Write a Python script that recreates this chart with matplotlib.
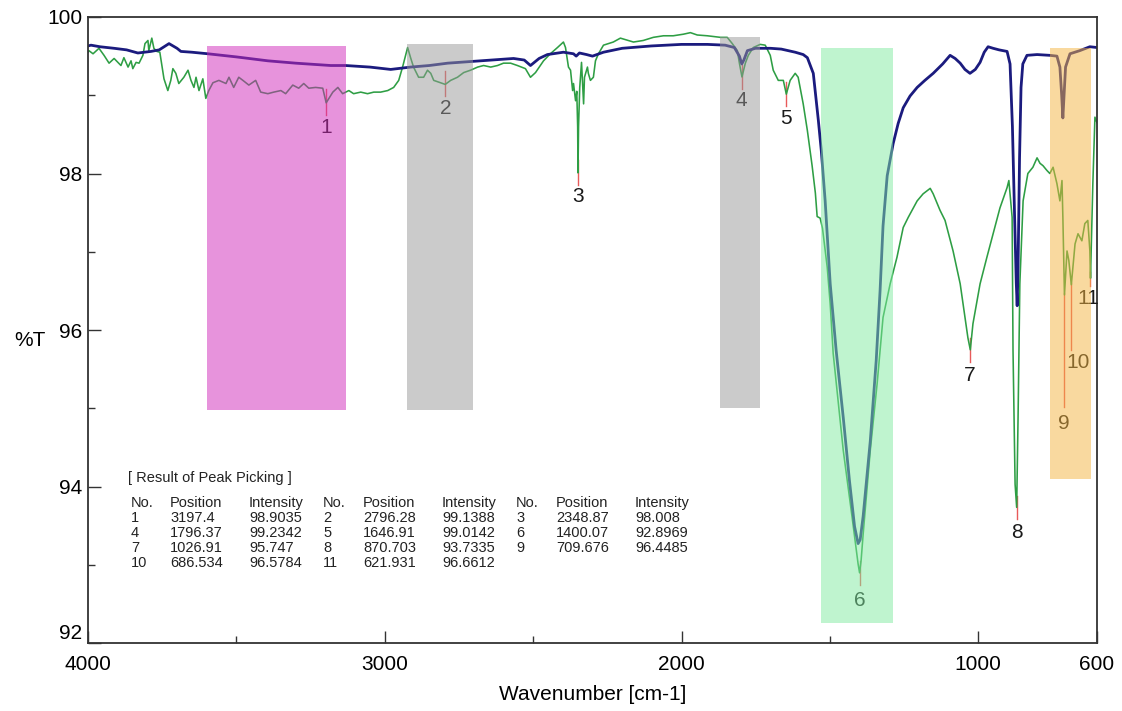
import matplotlib
matplotlib.use("Agg")
import matplotlib.pyplot as plt
from matplotlib.patches import Rectangle
from matplotlib.ticker import FixedLocator

plt.rcParams['font.family'] = ['Liberation Sans', 'DejaVu Sans']

# ---------------- data: sample spectrum (green) ----------------
green_wn = [
    4000, 3997, 3983, 3963, 3946, 3929, 3912, 3899, 3889, 3879,
    3865, 3855, 3849, 3838, 3828, 3815, 3808, 3798, 3795, 3785,
    3778, 3768, 3758, 3744, 3731, 3721, 3714, 3704, 3694, 3677,
    3663, 3653, 3643, 3636, 3626, 3613, 3603, 3593, 3579, 3559,
    3535, 3525, 3509, 3492, 3478, 3458, 3435, 3418, 3394, 3374,
    3350, 3334, 3310, 3290, 3273, 3256, 3233, 3209, 3197.4, 3175,
    3158, 3142, 3121, 3105, 3081, 3058, 3037, 3014, 2990, 2970,
    2953, 2940, 2930, 2923, 2913, 2903, 2886, 2869, 2856, 2845,
    2835, 2812, 2796.28, 2778, 2755, 2734, 2711, 2687, 2667, 2643,
    2620, 2600, 2576, 2553, 2526, 2509, 2492, 2465, 2442, 2418,
    2398, 2391, 2381, 2374, 2367, 2364, 2357, 2353, 2350, 2348.87,
    2347, 2343, 2337, 2330, 2327, 2317, 2314, 2307, 2297, 2290,
    2280, 2263, 2230, 2206, 2162, 2129, 2095, 2061, 2028, 1994,
    1970, 1947, 1913, 1869, 1846, 1829, 1812, 1805, 1796.37, 1785,
    1775, 1758, 1735, 1718, 1701, 1691, 1674, 1657, 1646.91, 1634,
    1617, 1607, 1590, 1576, 1560, 1549, 1543, 1533, 1525, 1509,
    1499, 1489, 1455, 1425, 1405, 1400.07, 1395, 1388, 1364, 1341,
    1321, 1297, 1274, 1253, 1236, 1206, 1186, 1162, 1152, 1129,
    1112, 1085, 1061, 1045, 1035, 1026.91, 1018, 994, 971, 950,
    927, 903, 897, 886, 883, 876, 870.703, 866, 860, 849,
    833, 816, 802, 792, 782, 769, 759, 748, 735, 725,
    718, 715, 709.676, 701, 695, 686.534, 674, 664, 651, 641,
    631, 624, 621.931, 614, 607, 600,
]
green_t = [
    99.55, 99.57, 99.53, 99.60, 99.51, 99.41, 99.47, 99.42, 99.38, 99.48,
    99.36, 99.44, 99.34, 99.42, 99.41, 99.51, 99.66, 99.70, 99.57, 99.73,
    99.60, 99.56, 99.55, 99.21, 99.06, 99.19, 99.34, 99.28, 99.15, 99.23,
    99.32, 99.19, 99.10, 99.23, 99.06, 99.21, 98.96, 99.06, 99.16, 99.19,
    99.15, 99.23, 99.10, 99.23, 99.19, 99.13, 99.19, 99.04, 99.02, 99.04,
    99.06, 99.02, 99.13, 99.09, 99.15, 99.09, 99.10, 99.09, 98.9035, 99.04,
    99.10, 99.02, 99.06, 99.02, 99.04, 99.02, 99.04, 99.04, 99.06, 99.10,
    99.19, 99.36, 99.51, 99.61, 99.48, 99.36, 99.23, 99.23, 99.32, 99.28,
    99.19, 99.16, 99.1388, 99.19, 99.23, 99.29, 99.32, 99.36, 99.38, 99.36,
    99.38, 99.41, 99.41, 99.38, 99.34, 99.23, 99.29, 99.44, 99.53, 99.61,
    99.68, 99.61, 99.36, 99.32, 99.06, 99.15, 98.93, 99.05, 98.60, 98.008,
    98.60, 99.10, 99.42, 98.89, 99.23, 99.36, 99.28, 99.19, 99.23, 99.44,
    99.53, 99.64, 99.68, 99.73, 99.68, 99.70, 99.74, 99.76, 99.76, 99.78,
    99.80, 99.77, 99.76, 99.74, 99.74, 99.66, 99.57, 99.41, 99.2342, 99.41,
    99.51, 99.61, 99.65, 99.64, 99.51, 99.32, 99.19, 99.19, 99.0142, 99.19,
    99.28, 99.23, 98.89, 98.55, 98.10, 97.75, 97.45, 97.43, 97.30, 96.80,
    96.33, 95.70, 94.46, 93.60, 93.01, 92.8969, 93.05, 93.39, 94.46, 95.31,
    96.16, 96.59, 96.93, 97.31, 97.44, 97.65, 97.74, 97.81, 97.74, 97.53,
    97.40, 97.01, 96.59, 96.16, 95.90, 95.747, 96.08, 96.59, 96.93, 97.23,
    97.56, 97.82, 97.91, 97.44, 95.74, 94.03, 93.7335, 94.88, 96.59, 97.65,
    98.00, 98.08, 98.20, 98.13, 98.10, 98.04, 98.00, 98.08, 97.87, 97.65,
    97.91, 97.44, 96.4485, 97.01, 96.89, 96.5784, 97.10, 97.23, 97.14, 97.36,
    97.40, 97.01, 96.6612, 97.87, 98.72, 98.65,
]

# ---------------- data: reference spectrum (navy) ----------------
blue_wn = [
    4000, 3990, 3960, 3912, 3870, 3832, 3810, 3788, 3760, 3727,
    3700, 3687, 3650, 3596, 3500, 3394, 3300, 3182, 3132, 3050,
    2980, 2913, 2850, 2788, 2677, 2566, 2530, 2509, 2480, 2452,
    2398, 2364, 2355, 2344, 2320, 2300, 2263, 2200, 2102, 2000,
    1913, 1853, 1822, 1805, 1797, 1790, 1778, 1751, 1700, 1664,
    1617, 1590, 1576, 1556, 1539, 1529, 1516, 1499, 1479, 1455,
    1434, 1417, 1405, 1398, 1388, 1364, 1344, 1331, 1321, 1307,
    1287, 1270, 1253, 1230, 1206, 1180, 1152, 1120, 1095, 1078,
    1061, 1045, 1028, 1010, 994, 980, 967, 950, 930, 903,
    893, 885, 878, 872, 869, 866, 861, 856, 850, 836,
    802, 759, 735, 725, 719, 715, 711, 706, 691, 658,
    624, 600,
]
blue_t = [
    99.63, 99.64, 99.62, 99.60, 99.58, 99.54, 99.55, 99.56, 99.58, 99.66,
    99.60, 99.56, 99.55, 99.53, 99.49, 99.44, 99.41, 99.38, 99.38, 99.36,
    99.33, 99.36, 99.38, 99.41, 99.44, 99.47, 99.45, 99.38, 99.47, 99.52,
    99.55, 99.53, 99.50, 99.54, 99.52, 99.50, 99.55, 99.60, 99.63, 99.65,
    99.65, 99.64, 99.61, 99.50, 99.40, 99.45, 99.57, 99.60, 99.60, 99.59,
    99.55, 99.52, 99.48, 99.28, 98.68, 98.29, 97.65, 96.59, 95.74, 94.88,
    94.07, 93.49, 93.27, 93.32, 93.62, 94.58, 95.61, 96.50, 97.33, 97.97,
    98.38, 98.64, 98.84, 98.99, 99.10, 99.19, 99.28, 99.40, 99.51, 99.47,
    99.41, 99.33, 99.28, 99.33, 99.42, 99.55, 99.62, 99.60, 99.58, 99.56,
    99.40, 98.60, 97.50, 96.60, 96.31, 96.80, 98.20, 99.10, 99.40, 99.51,
    99.52, 99.51, 99.50, 99.36, 99.00, 98.71, 99.00, 99.36, 99.53, 99.57,
    99.62, 99.61,
]

# ---------------- data: picked peaks ----------------
peak_no = [1, 2, 3, 4, 5, 6, 7, 8, 9, 10, 11]
peak_pos = [3197.4, 2796.28, 2348.87, 1796.37, 1646.91, 1400.07,
            1026.91, 870.703, 709.676, 686.534, 621.931]
peak_int = [98.9035, 99.1388, 98.008, 99.2342, 99.0142, 92.8969,
            95.747, 93.7335, 96.4485, 96.5784, 96.6612]

# ---------------- highlighted bands ----------------
band_lo = [3132, 2704, 1735, 1288, 620]
band_hi = [3599, 2926, 1869, 1530, 760]
band_bottom = [94.98, 94.98, 95.0, 92.26, 94.09]
band_top = [99.63, 99.66, 99.75, 99.60, 99.60]
band_color = ['#d129bb', '#999999', '#999999', '#81eba1', '#f5b541']

# ---------------- layout / style (not data) ----------------
mark_up = [0.17, 0.17, 0.17, 0.15, 0.15, 0.15, 0.15, 0.15, 0.03, 0.02, 0.08]
mark_down = [0.15, 0.15, 0.15, 0.15, 0.15, 0.15, 0.15, 0.15, 1.43, 0.84, 0.10]
label_wn = [3197, 2793, 2347, 1799, 1647, 1398, 1028, 870, 711, 663, 631]
label_t = [98.59, 98.83, 97.70, 98.93, 98.70, 92.54, 95.42, 93.41, 94.81, 95.58, 96.40]

W, H = 1122, 711
fig = plt.figure(figsize=(W / 100, H / 100), dpi=100)
L, R, T, B = 88, 1097, 17, 643
ax = fig.add_axes([L / W, 1 - B / H, (R - L) / W, (B - T) / H])

ax.plot(green_wn, green_t, color='#2e9e44', lw=1.15, zorder=2)
ax.plot(blue_wn, blue_t, color='#1b1b7e', lw=2.0, zorder=2.2)

for i in range(len(peak_no)):
    ax.plot([peak_pos[i], peak_pos[i]],
            [peak_int[i] + mark_up[i], peak_int[i] - mark_down[i]],
            color='#e85a5a', lw=1.0, zorder=1.9)
    ax.text(label_wn[i], label_t[i], str(peak_no[i]), fontsize=15,
            ha='center', va='center', color='#1a1a1a', zorder=3)

for lo, hi, b0, b1, c in zip(band_lo, band_hi, band_bottom, band_top, band_color):
    ax.add_patch(Rectangle((lo, b0), hi - lo, b1 - b0, facecolor=c,
                           edgecolor='none', alpha=0.5, zorder=4))

ax.set_xlim(4000, 600)
ax.set_ylim(92, 100)
ax.xaxis.set_major_locator(FixedLocator([4000, 3000, 2000, 1000, 600]))
ax.xaxis.set_minor_locator(FixedLocator([3500, 2500, 1500]))
ax.yaxis.set_major_locator(FixedLocator([92, 94, 96, 98, 100]))
ax.yaxis.set_minor_locator(FixedLocator([93, 95, 97, 99]))
ax.tick_params(which='major', direction='in', length=9, width=1.0,
               color='#333333', labelsize=15)
ax.tick_params(which='minor', direction='in', length=5, width=1.0,
               color='#333333')
ax.tick_params(axis='x', which='major', pad=9)
ax.tick_params(axis='y', which='major', pad=4)
for sp in ax.spines.values():
    sp.set_color('#333333')
    sp.set_linewidth(1.3)

for lab in ax.get_yticklabels():
    if lab.get_text() == '92':
        lab.set_va('bottom')

ax.set_xlabel('Wavenumber [cm-1]', fontsize=15)
ax.xaxis.set_label_coords(0.5, -0.083)
ax.xaxis.label.set_va('center')
ax.set_ylabel('%T', fontsize=15, rotation=0, ha='center', va='center')
ax.yaxis.set_label_coords(-0.058, 0.484)

# ---- peak table ----
tx = lambda px: px / W
ty = lambda py: 1 - py / H
fs_tab = 10.5
fig.text(tx(128), ty(478), '[ Result of Peak Picking ]', fontsize=fs_tab,
         ha='left', va='center', color='#222222')
col_x = [131, 170, 249, 323, 363, 442, 516, 556, 635]
row_y = [503, 518, 533, 548, 563]
for g in range(3):
    for j, h in enumerate(['No.', 'Position', 'Intensity']):
        fig.text(tx(col_x[3 * g + j]), ty(row_y[0]), h, fontsize=fs_tab,
                 ha='left', va='center', color='#222222')
for k in range(len(peak_no)):
    r, g = divmod(k, 3)
    vals = [str(peak_no[k]), f"{peak_pos[k]:g}", f"{peak_int[k]:g}"]
    for j, v in enumerate(vals):
        fig.text(tx(col_x[3 * g + j]), ty(row_y[r + 1]), v, fontsize=fs_tab,
                 ha='left', va='center', color='#222222')

fig.savefig('out.png', dpi=100)
